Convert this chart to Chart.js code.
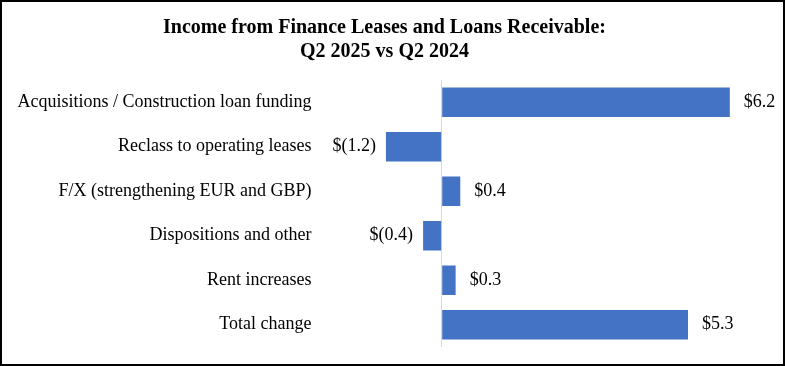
<!DOCTYPE html>
<html>
<head>
<meta charset="utf-8">
<script src="https://cdn.jsdelivr.net/npm/chart.js@4.4.1/dist/chart.umd.min.js"></script>
<style>
  html, body { margin: 0; padding: 0; background: #fff; }
  #caja { width: 785px; height: 366px; box-sizing: border-box; border: 2px solid #000; background: #fff; }
  #grafica { display: block; }
</style>
</head>
<body>
<div id="caja"><canvas id="grafica" width="781" height="362"></canvas></div>
<script>
const categorias = [
    'Acquisitions / Construction loan funding',
    'Reclass to operating leases',
    'F/X (strengthening EUR and GBP)',
    'Dispositions and other',
    'Rent increases',
    'Total change'
];
const valores = [6.2, -1.2, 0.4, -0.4, 0.3, 5.3];
const titulo = ['Income from Finance Leases and Loans Receivable:', 'Q2 2025 vs Q2 2024'];

function formatoDolar(v) {
    return v < 0 ? '$(' + Math.abs(v).toFixed(1) + ')' : '$' + v.toFixed(1);
}

// Etiquetas de valor al final de cada barra
const etiquetasValor = {
    id: 'etiquetasValor',
    afterDatasetsDraw(chart) {
        const ctx = chart.ctx;
        const meta = chart.getDatasetMeta(0);
        ctx.save();
        ctx.font = '18px "Liberation Serif"';
        ctx.fillStyle = '#000';
        ctx.textBaseline = 'middle';
        meta.data.forEach((barra, i) => {
            const v = valores[i];
            if (v < 0) {
                ctx.textAlign = 'right';
                ctx.fillText(formatoDolar(v), barra.x - 10, barra.y);
            } else {
                ctx.textAlign = 'left';
                ctx.fillText(formatoDolar(v), barra.x + 14, barra.y);
            }
        });
        ctx.restore();
    }
};

new Chart(document.getElementById('grafica').getContext('2d'), {
    type: 'bar',
    data: {
        labels: categorias,
        datasets: [{
            data: valores,
            backgroundColor: '#4472c4',
            borderWidth: 0,
            categoryPercentage: 1,
            barPercentage: 0.66
        }]
    },
    plugins: [etiquetasValor],
    options: {
        indexAxis: 'y',
        responsive: false,
        animation: false,
        layout: { padding: { top: 0, right: 16, bottom: 17, left: 0 } },
        plugins: {
            legend: { display: false },
            tooltip: { enabled: false },
            title: {
                display: true,
                text: titulo,
                color: '#000',
                font: { family: '"Liberation Serif"', size: 20, weight: 'bold', lineHeight: 1.2 },
                padding: { top: 14, bottom: 16 }
            }
        },
        scales: {
            x: {
                min: -2.5,
                max: 7,
                afterFit(scale) { scale.height = 0; },
                ticks: { display: false, stepSize: 0.5 },
                border: { display: false },
                grid: {
                    drawTicks: false,
                    lineWidth: 1,
                    color: (c) => (c.tick && c.tick.value === 0 ? '#d9d9d9' : 'rgba(0,0,0,0)')
                }
            },
            y: {
                afterFit(scale) {
                    scale.width = 323.5;
                    scale.paddingTop = 0;
                    scale.paddingBottom = 0;
                },
                ticks: {
                    color: '#000',
                    padding: 14,
                    font: { family: '"Liberation Serif"', size: 18 }
                },
                border: { display: false },
                grid: { display: false, drawTicks: false }
            }
        }
    }
});
</script>
</body>
</html>
